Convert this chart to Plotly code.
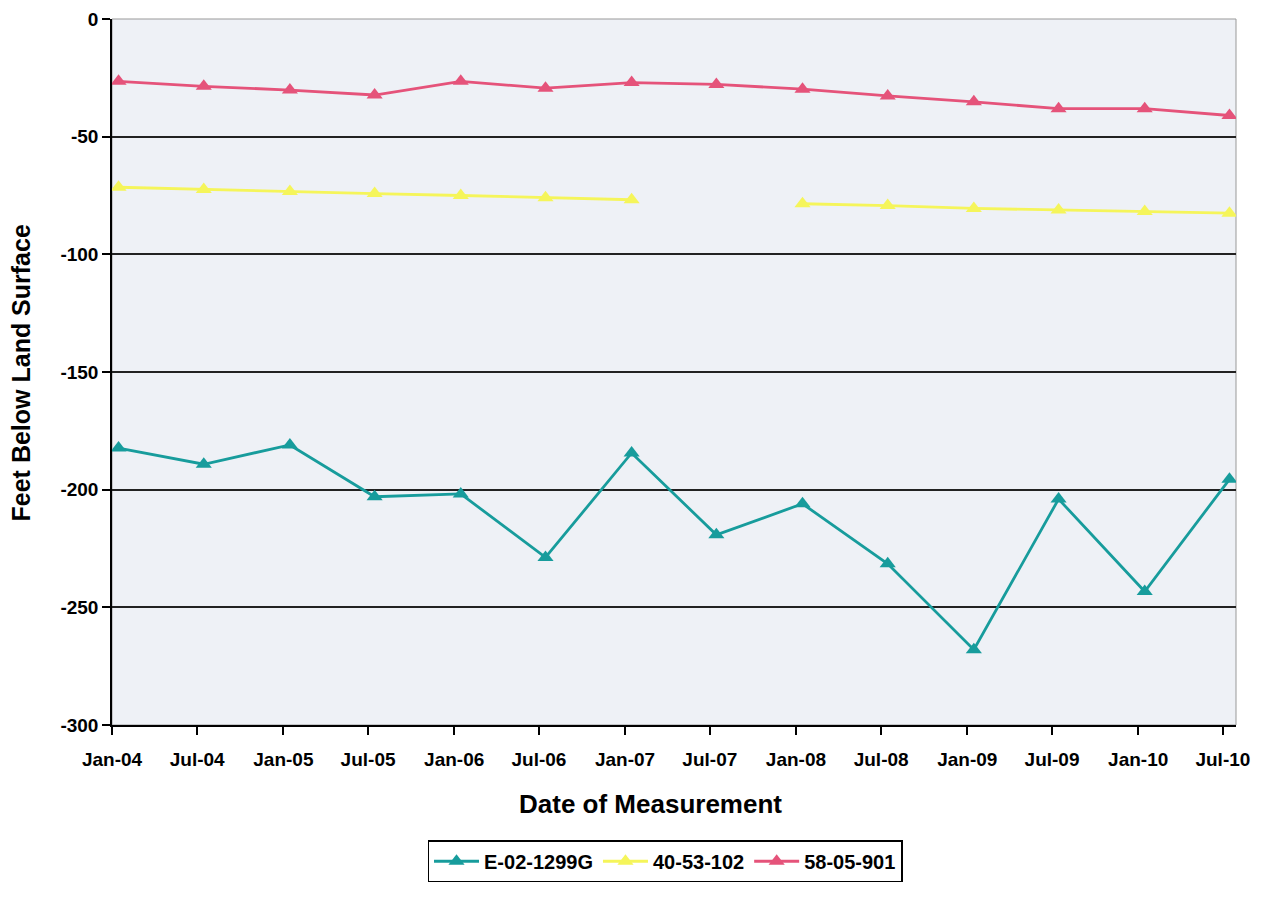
import plotly.graph_objects as go

# dates de mesure (milieu de mois) et libellés d'axe
dates = ["2004-01-15", "2004-07-15", "2005-01-15", "2005-07-15", "2006-01-15",
         "2006-07-15", "2007-01-15", "2007-07-15", "2008-01-15", "2008-07-15",
         "2009-01-15", "2009-07-15", "2010-01-15", "2010-07-15"]
tick_dates = ["2004-01-01", "2004-07-01", "2005-01-01", "2005-07-01", "2006-01-01",
              "2006-07-01", "2007-01-01", "2007-07-01", "2008-01-01", "2008-07-01",
              "2009-01-01", "2009-07-01", "2010-01-01", "2010-07-01"]
tick_labels = ["Jan-04", "Jul-04", "Jan-05", "Jul-05", "Jan-06", "Jul-06", "Jan-07",
               "Jul-07", "Jan-08", "Jul-08", "Jan-09", "Jul-09", "Jan-10", "Jul-10"]
y_ticks = [0, -50, -100, -150, -200, -250, -300]
y_labels = ["0", "-50", "-100", "-150", "-200", "-250", "-300"]

well_e02 = [-182.3, -189.2, -181.0, -203.0, -201.8, -228.8, -184.4,
            -219.2, -206.0, -231.5, -268.0, -204.0, -243.3, -195.6]
well_40 = [-71.5, -72.5, -73.3, -74.2, -75.0, -76.0, -76.8,
           None, -78.5, -79.3, -80.5, -81.2, -81.8, -82.5]
well_58 = [-26.5, -28.6, -30.2, -32.3, -26.5, -29.4, -27.0,
           -27.8, -29.8, -32.7, -35.2, -38.1, -38.1, -41.0]

series = [
    ("E-02-1299G", well_e02, "#179c9c"),
    ("40-53-102", well_40, "#f5f55a"),
    ("58-05-901", well_58, "#e5537a"),
]

font_main = "Liberation Sans, Arial"

fig = go.Figure()
for name, vals, col in series:
    fig.add_trace(go.Scatter(
        x=dates, y=vals, name=name, mode="lines+markers",
        line=dict(color=col, width=2.8),
        marker=dict(symbol="triangle-up", size=14, color=col),
        connectgaps=False,
    ))

# la page ajoute 8 px de marge autour de la figure
fig.update_layout(
    width=1248, height=885,
    margin=dict(l=104, r=20, t=11, b=149),
    plot_bgcolor="#eef1f6", paper_bgcolor="white",
    font=dict(family=font_main, color="black"),
    showlegend=True,
    legend=dict(
        orientation="h", x=0.492, xanchor="center", y=-0.193, yanchor="middle",
        bordercolor="black", borderwidth=1.5, bgcolor="white",
        font=dict(size=20, family=font_main, weight="bold"),
        itemwidth=45,
    ),
)

fig.update_xaxes(
    type="date", automargin=False,
    range=["2004-01-01", "2010-07-29"],
    tickmode="array", tickvals=tick_dates, ticktext=tick_labels,
    tickfont=dict(size=19, family=font_main, weight="bold"),
    ticks="outside", ticklen=8, tickcolor="black", tickwidth=1.5,
    ticklabelstandoff=8,
    showline=True, linecolor="black", linewidth=1.5,
    showgrid=False, zeroline=False,
)

fig.update_yaxes(
    automargin=False,
    range=[-300, 0],
    tickmode="array", tickvals=y_ticks, ticktext=y_labels,
    tickfont=dict(size=19, family=font_main, weight="bold"),
    ticks="outside", ticklen=8, tickcolor="black", tickwidth=1.5,
    showline=True, linecolor="black", linewidth=1.5,
    showgrid=True, gridcolor="#222222", gridwidth=1.5,
    zeroline=False,
)

# titres d'axes
fig.add_annotation(text="<b>Date of Measurement</b>", xref="paper", yref="paper",
                   x=0.4795, y=-0.1117, xanchor="center", yanchor="middle",
                   showarrow=False, font=dict(size=26, family=font_main))
fig.add_annotation(text="<b>Feet Below Land Surface</b>", xref="paper", yref="paper",
                   x=-0.0801, y=0.4993, xanchor="center", yanchor="middle",
                   showarrow=False, textangle=-90,
                   font=dict(size=25, family=font_main))

# bordure grise du cadre
fig.add_shape(type="rect", xref="paper", yref="paper", x0=0, x1=1, y0=0, y1=1,
              line=dict(color="#999999", width=1), layer="below")

fig.write_html("out.html")
